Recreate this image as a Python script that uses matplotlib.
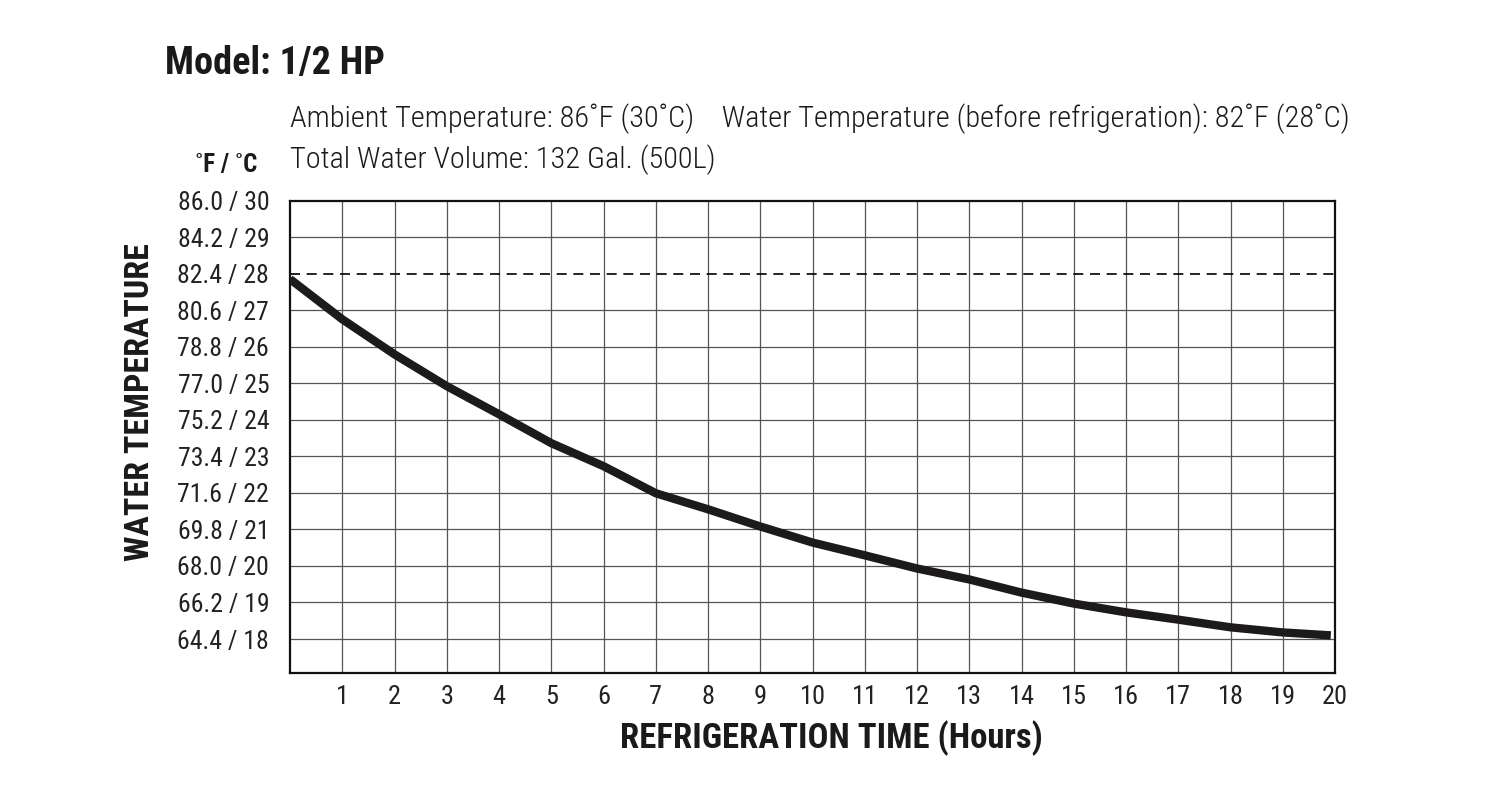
import matplotlib
matplotlib.use("Agg")
import matplotlib.pyplot as plt

# Dati (tempo in ore, temperatura in °C)
ore = [0, 1, 2, 3, 4, 5, 6, 7, 8, 9, 10, 11, 12, 13, 14, 15, 16, 17, 18, 19, 19.92]
temp_c = [27.85, 26.75, 25.79, 24.92, 24.15, 23.36, 22.73, 21.99, 21.55, 21.08,
          20.64, 20.29, 19.93, 19.63, 19.27, 18.97, 18.73, 18.53, 18.32, 18.18, 18.1]

tick_c = [30, 29, 28, 27, 26, 25, 24, 23, 22, 21, 20, 19, 18]
tick_labels = ["86.0 / 30", "84.2 / 29", "82.4 / 28", "80.6 / 27", "78.8 / 26",
               "77.0 / 25", "75.2 / 24", "73.4 / 23", "71.6 / 22", "69.8 / 21",
               "68.0 / 20", "66.2 / 19", "64.4 / 18"]
tick_ore = list(range(1, 21))
temp_iniziale = 28

FONT = ["Roboto Condensed", "Roboto", "DejaVu Sans"]
plt.rcParams["font.family"] = FONT
plt.rcParams["font.stretch"] = "condensed"

fig = plt.figure(figsize=(15, 7.89), dpi=100)
ax = fig.add_axes([290 / 1500, 1 - 673 / 789, (1335 - 290) / 1500, (673 - 200.5) / 789])

ax.set_xlim(0, 20)
ax.set_ylim(17.07, 30)

# griglia
for c in tick_c[1:]:
    if c == temp_iniziale:
        continue
    ax.axhline(c, color="#555555", lw=0.9, zorder=1)
for h in tick_ore[:-1]:
    ax.axvline(h, color="#555555", lw=0.9, zorder=1)

ax.axhline(temp_iniziale, color="black", lw=1.2, ls=(0, (6, 4)), zorder=2)

ax.plot(ore, temp_c, color="#1c1a1a", lw=6, solid_capstyle="butt", zorder=3)

ax.set_yticks(tick_c)
ax.set_yticklabels(tick_labels)
ax.set_xticks(tick_ore)
ax.set_xticklabels([str(h) for h in tick_ore])
ax.tick_params(axis="y", length=0, pad=15, labelsize=18.5, colors="#222222")
ax.tick_params(axis="x", length=0, pad=9, labelsize=19, colors="#222222")
for s in ax.spines.values():
    s.set_linewidth(1.6)
    s.set_color("#111111")

ax.set_xlabel("REFRIGERATION TIME (Hours)", fontsize=25, fontweight="bold",
              color="#1a1a1a")
ax.xaxis.set_label_coords((831 - 290) / 1045, -0.1)
fig.text(140 / 1500, 1 - 402 / 789, "WATER TEMPERATURE", rotation=90, fontsize=24.5,
         fontweight="bold", color="#1a1a1a", ha="center", va="center")

fig.text(165 / 1500, 1 - 63 / 789, "Model: 1/2 HP", fontsize=27.5, fontweight="bold",
         color="#1a1a1a", ha="left", va="center")
fig.text(290 / 1500, 1 - 119 / 789,
         "Ambient Temperature: 86˚F (30˚C)    Water Temperature (before refrigeration): 82˚F (28˚C)",
         fontsize=21.9, fontweight="light", color="#1a1a1a", ha="left", va="center")
fig.text(290 / 1500, 1 - 160 / 789, "Total Water Volume: 132 Gal. (500L)",
         fontsize=21.9, fontweight="light", color="#1a1a1a", ha="left", va="center")
fig.text(257 / 1500, 1 - 165 / 789, "˚F / ˚C", fontsize=18, fontweight="bold",
         color="#1a1a1a", ha="right", va="center")

fig.savefig("out.png", dpi=100, facecolor="white")
